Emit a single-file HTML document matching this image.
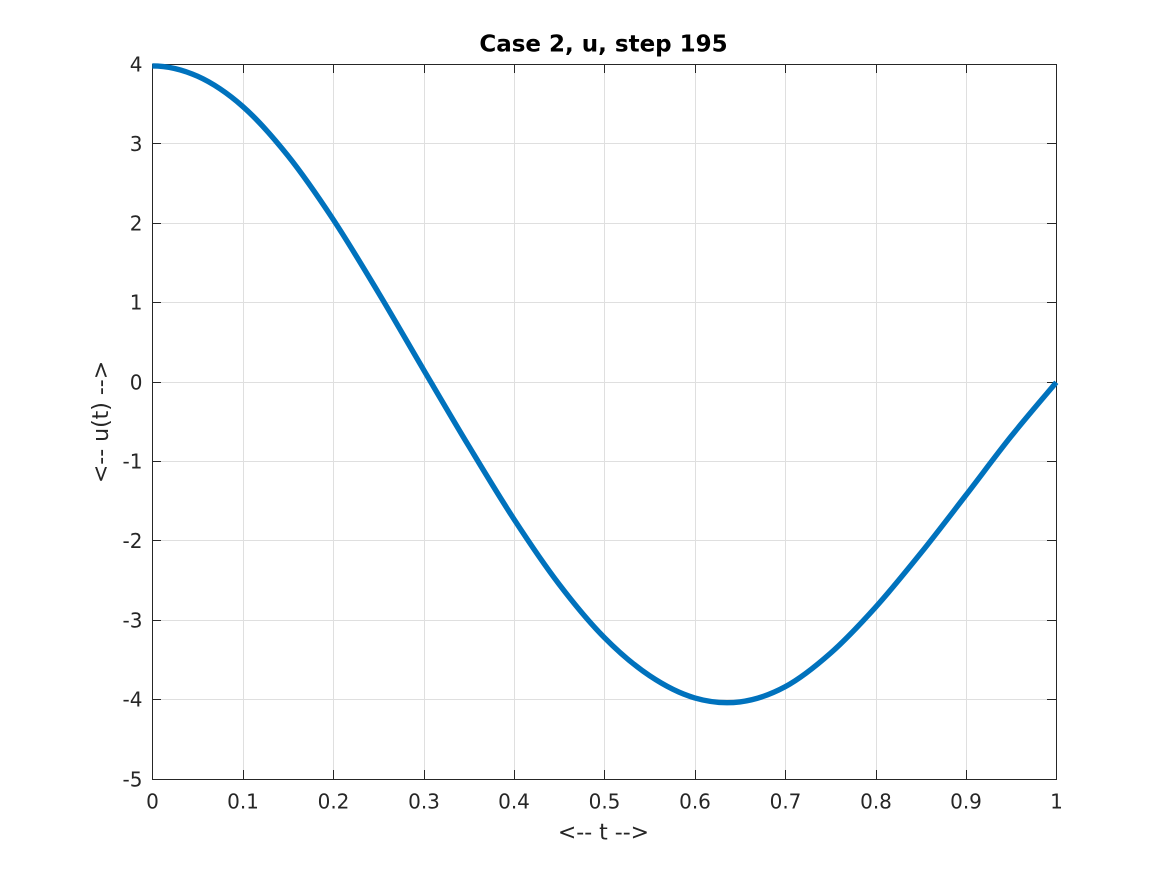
<!DOCTYPE html>
<html>
<head>
<meta charset="utf-8">
<style>
  html, body { margin: 0; padding: 0; background: #ffffff; }
  body { width: 1167px; height: 875px; overflow: hidden; }
  svg { display: block; }
  text { font-family: "DejaVu Sans", "Liberation Sans", sans-serif; fill: #262626; }
</style>
</head>
<body>
<svg width="1167" height="875" viewBox="0 0 1167 875" xmlns="http://www.w3.org/2000/svg">
  <rect x="0" y="0" width="1167" height="875" fill="#ffffff"/>

  <!-- grid -->
  <g stroke="#dfdfdf" stroke-width="1" shape-rendering="crispEdges">
    <line x1="243.5" y1="64" x2="243.5" y2="779"/>
    <line x1="333.5" y1="64" x2="333.5" y2="779"/>
    <line x1="424.5" y1="64" x2="424.5" y2="779"/>
    <line x1="514.5" y1="64" x2="514.5" y2="779"/>
    <line x1="604.5" y1="64" x2="604.5" y2="779"/>
    <line x1="695.5" y1="64" x2="695.5" y2="779"/>
    <line x1="785.5" y1="64" x2="785.5" y2="779"/>
    <line x1="876.5" y1="64" x2="876.5" y2="779"/>
    <line x1="966.5" y1="64" x2="966.5" y2="779"/>

    <line x1="152" y1="143.5" x2="1056" y2="143.5"/>
    <line x1="152" y1="223.5" x2="1056" y2="223.5"/>
    <line x1="152" y1="302.5" x2="1056" y2="302.5"/>
    <line x1="152" y1="382.5" x2="1056" y2="382.5"/>
    <line x1="152" y1="461.5" x2="1056" y2="461.5"/>
    <line x1="152" y1="540.5" x2="1056" y2="540.5"/>
    <line x1="152" y1="620.5" x2="1056" y2="620.5"/>
    <line x1="152" y1="699.5" x2="1056" y2="699.5"/>
  </g>

  <!-- axes box -->
  <rect x="152.5" y="64.5" width="904" height="715" fill="none" stroke="#262626" stroke-width="1" shape-rendering="crispEdges"/>

  <!-- ticks -->
  <g stroke="#262626" stroke-width="1" shape-rendering="crispEdges">
    <line x1="243.5" y1="779" x2="243.5" y2="770"/><line x1="243.5" y1="64" x2="243.5" y2="73"/>
    <line x1="333.5" y1="779" x2="333.5" y2="770"/><line x1="333.5" y1="64" x2="333.5" y2="73"/>
    <line x1="424.5" y1="779" x2="424.5" y2="770"/><line x1="424.5" y1="64" x2="424.5" y2="73"/>
    <line x1="514.5" y1="779" x2="514.5" y2="770"/><line x1="514.5" y1="64" x2="514.5" y2="73"/>
    <line x1="604.5" y1="779" x2="604.5" y2="770"/><line x1="604.5" y1="64" x2="604.5" y2="73"/>
    <line x1="695.5" y1="779" x2="695.5" y2="770"/><line x1="695.5" y1="64" x2="695.5" y2="73"/>
    <line x1="785.5" y1="779" x2="785.5" y2="770"/><line x1="785.5" y1="64" x2="785.5" y2="73"/>
    <line x1="876.5" y1="779" x2="876.5" y2="770"/><line x1="876.5" y1="64" x2="876.5" y2="73"/>
    <line x1="966.5" y1="779" x2="966.5" y2="770"/><line x1="966.5" y1="64" x2="966.5" y2="73"/>
    <line x1="152" y1="143.5" x2="161" y2="143.5"/><line x1="1056" y1="143.5" x2="1047" y2="143.5"/>
    <line x1="152" y1="223.5" x2="161" y2="223.5"/><line x1="1056" y1="223.5" x2="1047" y2="223.5"/>
    <line x1="152" y1="302.5" x2="161" y2="302.5"/><line x1="1056" y1="302.5" x2="1047" y2="302.5"/>
    <line x1="152" y1="382.5" x2="161" y2="382.5"/><line x1="1056" y1="382.5" x2="1047" y2="382.5"/>
    <line x1="152" y1="461.5" x2="161" y2="461.5"/><line x1="1056" y1="461.5" x2="1047" y2="461.5"/>
    <line x1="152" y1="540.5" x2="161" y2="540.5"/><line x1="1056" y1="540.5" x2="1047" y2="540.5"/>
    <line x1="152" y1="620.5" x2="161" y2="620.5"/><line x1="1056" y1="620.5" x2="1047" y2="620.5"/>
    <line x1="152" y1="699.5" x2="161" y2="699.5"/><line x1="1056" y1="699.5" x2="1047" y2="699.5"/>
  </g>

  <!-- curve -->
  <path fill="none" stroke="#0072BD" stroke-width="5.4" stroke-linejoin="round" d="
    M 152.3,65.89
    C 167.37,65.89 182.43,69.46 197.5,76.22
    C 212.57,82.98 227.63,93.18 242.7,106.43
    C 257.77,119.68 272.83,136.91 287.9,155.72
    C 302.97,174.54 318.03,196.53 333.1,219.32
    C 348.17,242.11 363.23,267.42 378.3,292.46
    C 393.37,317.5 408.43,344.01 423.5,369.58
    C 438.57,395.15 453.63,420.99 468.7,445.9
    C 483.77,470.81 498.83,495.99 513.9,519.04
    C 528.97,542.1 544.03,564.49 559.1,584.23
    C 574.17,603.97 589.23,622.26 604.3,637.5
    C 619.37,652.74 634.43,665.59 649.5,675.66
    C 664.57,685.73 679.63,693.55 694.7,697.92
    C 709.77,702.29 724.83,703.75 739.9,701.89
    C 754.97,700.04 770.03,694.87 785.1,686.79
    C 800.17,678.71 815.23,666.65 830.3,653.4
    C 845.37,640.15 860.43,623.99 875.5,607.29
    C 890.57,590.6 905.63,571.91 920.7,553.23
    C 935.77,534.55 950.83,514.67 965.9,495.19
    C 980.97,475.71 996.03,455.18 1011.1,436.36
    C 1026.17,417.55 1041.23,400.32 1056.3,382.3"/>

  <!-- x tick labels -->
  <g font-size="20" text-anchor="middle">
    <text x="152.5" y="808.3">0</text>
    <text x="243" y="808.3">0.1</text>
    <text x="333.5" y="808.3">0.2</text>
    <text x="424" y="808.3">0.3</text>
    <text x="514" y="808.3">0.4</text>
    <text x="604.5" y="808.3">0.5</text>
    <text x="695" y="808.3">0.6</text>
    <text x="785.5" y="808.3">0.7</text>
    <text x="876" y="808.3">0.8</text>
    <text x="966" y="808.3">0.9</text>
    <text x="1056.5" y="808.3">1</text>
  </g>

  <!-- y tick labels -->
  <g font-size="20" text-anchor="end">
    <text x="142.5" y="71.5">4</text>
    <text x="142.5" y="150.8">3</text>
    <text x="142.5" y="230.6">2</text>
    <text x="142.5" y="309.6">1</text>
    <text x="142.5" y="389.6">0</text>
    <text x="142.5" y="468.6">-1</text>
    <text x="142.5" y="548">-2</text>
    <text x="142.5" y="627.6">-3</text>
    <text x="142.5" y="706.6">-4</text>
    <text x="142.5" y="786.3">-5</text>
  </g>

  <!-- axis labels -->
  <text x="603.5" y="839.5" font-size="22" text-anchor="middle">&lt;-- t --&gt;</text>
  <text x="0" y="0" font-size="22" text-anchor="middle" transform="translate(108,422) rotate(-90)">&lt;-- u(t) --&gt;</text>

  <!-- title -->
  <text x="603.5" y="51.7" font-size="23" font-weight="bold" text-anchor="middle" style="fill:#000000">Case 2, u, step 195</text>
</svg>
</body>
</html>
